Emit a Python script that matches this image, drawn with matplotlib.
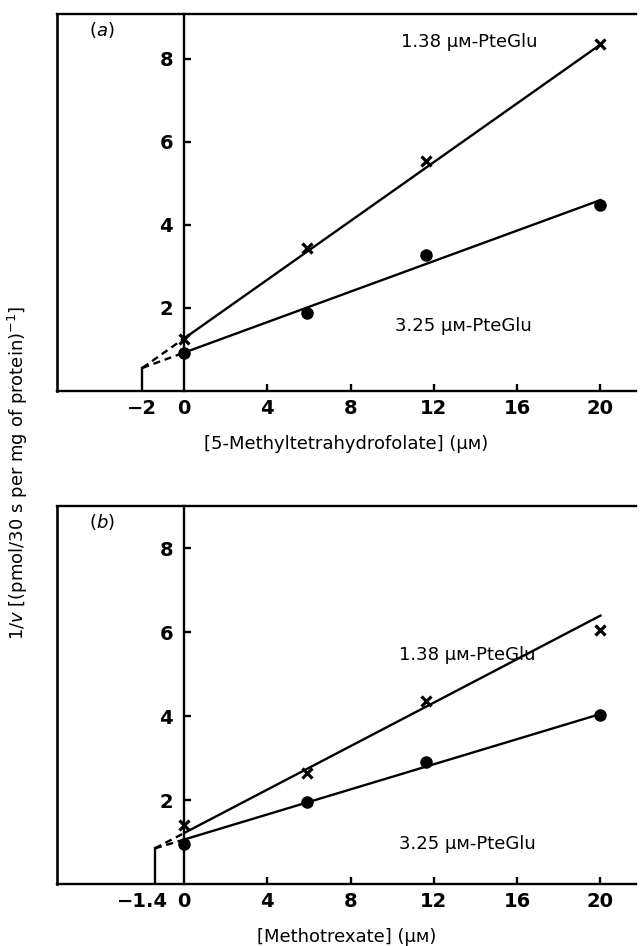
import numpy as np
import matplotlib
matplotlib.use("Agg")
from matplotlib import pyplot as plt
from matplotlib.transforms import ScaledTranslation

# panel (a): 5-methyltetrahydrofolate
conc_a = [0, 5.9, 11.6, 20]
y138_a = [1.25, 3.45, 5.55, 8.35]
y325_a = [0.92, 1.88, 3.27, 4.48]
fit_a = [(0.3545, 1.259), (0.184, 0.918)]   # slope, intercept
xint_a = -2.0

# panel (b): methotrexate
conc_b = [0, 5.9, 11.6, 20]
y138_b = [1.40, 2.65, 4.35, 6.05]
y325_b = [0.95, 1.95, 2.90, 4.02]
fit_b = [(0.259, 1.213), (0.1495, 1.059)]
xint_b = -1.4

xticks = [0, 4, 8, 12, 16, 20]
yticks = [2, 4, 6, 8]

plt.rcParams['font.family'] = ['DejaVu Sans']
fig = plt.figure(figsize=(6.41, 9.46), dpi=100)

XMIN, XMAX = -6.1, 21.7


def panel(ax, conc, y138, y325, fit, xint, ymax, tag, xlabel, pos138, pos325, shift):
    ax.set_xlim(XMIN, XMAX)
    ax.set_ylim(0, ymax)
    ax.spines['right'].set_visible(False)
    ax.spines['left'].set_position(('data', 0))
    for s in ['left', 'top', 'bottom']:
        ax.spines[s].set_linewidth(1.7)
    # outer left frame
    ax.axvline(XMIN, color='k', lw=1.9, clip_on=False)

    # fitted lines: solid over data, dashed back to intercept
    for slope, icpt in fit:
        xs = np.array([0, 20])
        ax.plot(xs, icpt + slope * xs, color='k', lw=1.7)
        xd = np.array([xint, 0])
        ax.plot(xd, icpt + slope * xd, color='k', lw=1.7, ls=(0, (3, 2)))
    yi = fit[0][1] + fit[0][0] * xint
    ax.plot([xint, xint], [0, yi], color='k', lw=1.7)

    ax.plot(conc, y138, ls='none', marker='x', ms=7, mew=2.3, color='k')
    ax.plot(conc, y325, ls='none', marker='o', ms=8, color='k')

    ax.set_xticks([xint] + xticks)
    ax.set_xticklabels(['\u2212' + f'{abs(xint):g}'] + [str(t) for t in xticks])
    ax.set_yticks(yticks)
    ax.tick_params(axis='both', direction='in', length=5, width=1.7,
                   labelsize=14, pad=6)
    ax.tick_params(axis='y', pad=8)
    for lab in ax.get_xticklabels() + ax.get_yticklabels():
        lab.set_fontweight('semibold')
    first = ax.get_xticklabels()[0]
    first.set_transform(first.get_transform() +
                        ScaledTranslation(shift / 100, 0, fig.dpi_scale_trans))
    ax.xaxis.get_major_ticks()[0].tick1line.set_visible(False)
    ax.xaxis.get_major_ticks()[1].tick1line.set_visible(False)

    ax.text(-3.95, ymax - 0.37, tag, fontsize=13, va='center', ha='center')
    ax.set_xlabel(xlabel, fontsize=13, labelpad=12)
    ax.text(pos138[0], pos138[1], '1.38 μᴍ-PteGlu', fontsize=13, ha='center', va='center')
    ax.text(pos325[0], pos325[1], '3.25 μᴍ-PteGlu', fontsize=13, ha='center', va='center')


ax1 = fig.add_axes([0.089, 0.587, 0.903, 0.398])
ax2 = fig.add_axes([0.089, 0.0655, 0.903, 0.3995])

panel(ax1, conc_a, y138_a, y325_a, fit_a, xint_a, 9.08, '($a$)',
      '[5-Methyltetrahydrofolate] (μᴍ)', (13.7, 8.4), (13.4, 1.55), 0)
panel(ax2, conc_b, y138_b, y325_b, fit_b, xint_b, 9.0, '($b$)',
      '[Methotrexate] (μᴍ)', (13.6, 5.45), (13.6, 0.95), -12)

fig.text(0.028, 0.50, r'1/$v$ [(pmol/30 s per mg of protein)$^{-1}$]',
         rotation=90, fontsize=13, ha='center', va='center')

fig.savefig('out.png', dpi=100)
